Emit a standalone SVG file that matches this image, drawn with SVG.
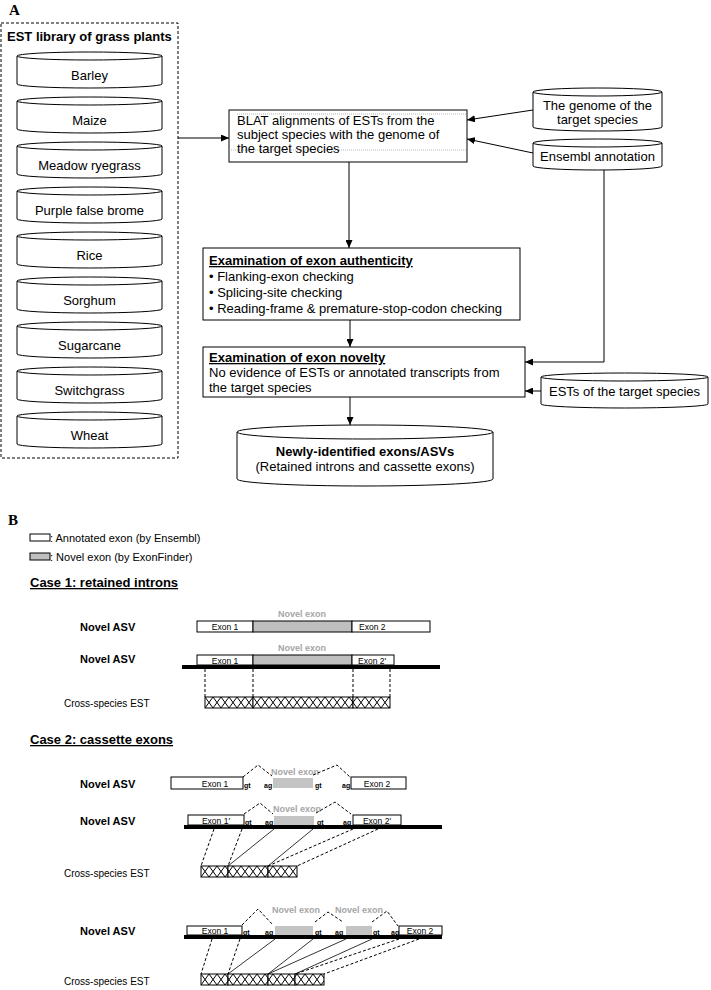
<svg xmlns="http://www.w3.org/2000/svg" width="711" height="990" viewBox="0 0 711 990">
<defs>
<marker id="ah" markerWidth="8" markerHeight="7" refX="8" refY="3.5" orient="auto" markerUnits="userSpaceOnUse"><path d="M0,0 L8,3.5 L0,7 Z" fill="#000"/></marker>
<pattern id="hatch" width="8" height="11" patternUnits="userSpaceOnUse"><rect width="8" height="11" fill="#fff"/><path d="M0,0 L8,11 M8,0 L0,11" stroke="#000" stroke-width="1"/></pattern>
</defs>
<style>
text{font-family:"Liberation Sans",Arial,Helvetica,sans-serif;fill:#000}
.t13{font-size:13px}
.bold{font-weight:bold}
.c{text-anchor:middle}
.shape{fill:#fff;stroke:#000;stroke-width:1}
.cl{fill:none;stroke:#000;stroke-width:1}
.arrow{fill:none;stroke:#000;stroke-width:1;marker-end:url(#ah)}
.dash{fill:none;stroke:#000;stroke-width:1;stroke-dasharray:3,2}
.dot{fill:none;stroke:#999;stroke-width:0.7;stroke-dasharray:1,1}
.ex{fill:#fff;stroke:#000;stroke-width:1}
.nov1{fill:#bfbfbf;stroke:#000;stroke-width:1}
.nov2{fill:#c4c4c4}
.gen{fill:#000}
.el{font-size:8.5px}
.nl{font-size:9px;font-weight:bold;fill:#a6a6a6}
.ss{font-size:7px;font-weight:bold}
.asv{font-size:11px;font-weight:bold}
.cse{font-size:10px}
.leg{font-size:11px}
.hd{font-size:13px;font-weight:bold;text-decoration:underline}
.u{text-decoration:underline}
.lbl{font-family:"Liberation Serif","Times New Roman",serif;font-weight:bold;font-size:15px}
.hatch{fill:url(#hatch);stroke:#000;stroke-width:1}
.sol{fill:none;stroke:#000;stroke-width:0.8}
.dl{fill:none;stroke:#000;stroke-width:1;stroke-dasharray:3,2}
</style>

<text class="lbl" x="9" y="15">A</text>

<g id="est-library">
<rect class="dash" x="1" y="23" width="177" height="435"/>
<text class="t13 bold" x="7" y="41">EST library of grass plants</text>
</g>

<g id="cyl-barley"><path class="shape" d="M17,56 A72.5,4 0 0 1 162,56 V84 A72.5,4 0 0 1 17,84 Z"/><path class="cl" d="M17,56 A72.5,4 0 0 0 162,56"/><text class="t13 c" x="89.5" y="80">Barley</text></g>
<g id="cyl-maize"><path class="shape" d="M17,101 A72.5,4 0 0 1 162,101 V129 A72.5,4 0 0 1 17,129 Z"/><path class="cl" d="M17,101 A72.5,4 0 0 0 162,101"/><text class="t13 c" x="89.5" y="125">Maize</text></g>
<g id="cyl-meadow"><path class="shape" d="M17,146 A72.5,4 0 0 1 162,146 V174 A72.5,4 0 0 1 17,174 Z"/><path class="cl" d="M17,146 A72.5,4 0 0 0 162,146"/><text class="t13 c" x="89.5" y="170">Meadow ryegrass</text></g>
<g id="cyl-purple"><path class="shape" d="M17,191 A72.5,4 0 0 1 162,191 V219 A72.5,4 0 0 1 17,219 Z"/><path class="cl" d="M17,191 A72.5,4 0 0 0 162,191"/><text class="t13 c" x="89.5" y="215">Purple false brome</text></g>
<g id="cyl-rice"><path class="shape" d="M17,236 A72.5,4 0 0 1 162,236 V264 A72.5,4 0 0 1 17,264 Z"/><path class="cl" d="M17,236 A72.5,4 0 0 0 162,236"/><text class="t13 c" x="89.5" y="260">Rice</text></g>
<g id="cyl-sorghum"><path class="shape" d="M17,281 A72.5,4 0 0 1 162,281 V309 A72.5,4 0 0 1 17,309 Z"/><path class="cl" d="M17,281 A72.5,4 0 0 0 162,281"/><text class="t13 c" x="89.5" y="305">Sorghum</text></g>
<g id="cyl-sugarcane"><path class="shape" d="M17,326 A72.5,4 0 0 1 162,326 V354 A72.5,4 0 0 1 17,354 Z"/><path class="cl" d="M17,326 A72.5,4 0 0 0 162,326"/><text class="t13 c" x="89.5" y="350">Sugarcane</text></g>
<g id="cyl-switchgrass"><path class="shape" d="M17,371 A72.5,4 0 0 1 162,371 V399 A72.5,4 0 0 1 17,399 Z"/><path class="cl" d="M17,371 A72.5,4 0 0 0 162,371"/><text class="t13 c" x="89.5" y="395">Switchgrass</text></g>
<g id="cyl-wheat"><path class="shape" d="M17,416 A72.5,4 0 0 1 162,416 V444 A72.5,4 0 0 1 17,444 Z"/><path class="cl" d="M17,416 A72.5,4 0 0 0 162,416"/><text class="t13 c" x="89.5" y="440">Wheat</text></g>

<g id="blat">
<rect class="shape" x="229" y="110" width="238" height="52"/>
<line class="dot" x1="237" y1="114" x2="467" y2="114"/>
<line class="dot" x1="229" y1="150" x2="467" y2="150"/>
<text class="t13" x="237" y="125">BLAT alignments of ESTs from the</text>
<text class="t13" x="237" y="139">subject species with the genome of</text>
<text class="t13" x="237" y="153">the target species</text>
</g>

<g id="genome">
<path class="shape" d="M533,92 A64.5,4 0 0 1 662,92 V127 A64.5,4 0 0 1 533,127 Z"/><path class="cl" d="M533,92 A64.5,4 0 0 0 662,92"/>
<text class="t13 c" x="597.5" y="110">The genome of the</text>
<text class="t13 c" x="597.5" y="124">target species</text>
</g>

<g id="ensembl">
<path class="shape" d="M533,143 A64.5,4 0 0 1 662,143 V166 A64.5,4 0 0 1 533,166 Z"/><path class="cl" d="M533,143 A64.5,4 0 0 0 662,143"/>
<text class="t13 c" x="597.5" y="161">Ensembl annotation</text>
</g>

<g id="authenticity">
<rect class="shape" x="203" y="248" width="317" height="72"/>
<text class="t13 bold u" x="209" y="265">Examination of exon authenticity</text>
<text class="t13" x="209" y="281">• Flanking-exon checking</text>
<text class="t13" x="209" y="297">• Splicing-site checking</text>
<text class="t13" x="209" y="313">• Reading-frame &amp; premature-stop-codon checking</text>
</g>

<g id="novelty">
<rect class="shape" x="203" y="347" width="322" height="50"/>
<text class="t13 bold u" x="209" y="362">Examination of exon novelty</text>
<text class="t13" x="209" y="377">No evidence of ESTs or annotated transcripts from</text>
<text class="t13" x="209" y="392">the target species</text>
</g>

<g id="est-target">
<path class="shape" d="M541,377 A83.5,4 0 0 1 708,377 V404 A83.5,4 0 0 1 541,404 Z"/><path class="cl" d="M541,377 A83.5,4 0 0 0 708,377"/>
<text class="t13 c" x="624.5" y="396">ESTs of the target species</text>
</g>

<g id="newly">
<path class="shape" d="M237,432 A128,7 0 0 1 493,432 V479 A128,7 0 0 1 237,479 Z"/><path class="cl" d="M237,432 A128,7 0 0 0 493,432"/>
<text class="t13 bold c" x="365" y="456">Newly-identified exons/ASVs</text>
<text class="t13 c" x="365" y="471">(Retained introns and cassette exons)</text>
</g>

<g id="connectors">
<line class="arrow" x1="178" y1="138" x2="229" y2="138"/>
<line class="arrow" x1="533" y1="110" x2="467" y2="120"/>
<line class="arrow" x1="533" y1="153" x2="467" y2="139"/>
<line class="arrow" x1="349" y1="162" x2="349" y2="248"/>
<line class="arrow" x1="350" y1="320" x2="350" y2="347"/>
<line class="arrow" x1="350" y1="397" x2="350" y2="425"/>
<polyline class="arrow" points="604,170 604,362 525,362"/>
<line class="arrow" x1="541" y1="391" x2="525" y2="391"/>
</g>

<text class="lbl" x="8" y="525">B</text>

<g id="legend">
<rect class="ex" x="30" y="534" width="20" height="7"/>
<text class="leg" x="50" y="542">: Annotated exon (by Ensembl)</text>
<rect class="nov1" x="30" y="553" width="20" height="7"/>
<text class="leg" x="50" y="561">: Novel exon (by ExonFinder)</text>
</g>

<g id="case1">
<text class="hd" x="30" y="587">Case 1: retained introns</text>
<text class="asv" x="80" y="631">Novel ASV</text>
<rect class="ex" x="197" y="621" width="56" height="11"/>
<rect class="nov1" x="253" y="621" width="99" height="11"/>
<rect class="ex" x="352" y="621" width="78" height="11"/>
<text class="el c" x="225" y="630">Exon 1</text>
<text class="el" x="359" y="630">Exon 2</text>
<text class="nl c" x="302" y="617">Novel exon</text>

<text class="asv" x="80" y="663">Novel ASV</text>
<rect class="gen" x="182" y="665" width="258" height="4"/>
<rect class="ex" x="197" y="655" width="56" height="10"/>
<rect class="nov1" x="253" y="655" width="99" height="10"/>
<rect class="ex" x="352" y="655" width="42" height="10"/>
<text class="el c" x="225" y="664">Exon 1</text>
<text class="el" x="358" y="664">Exon 2'</text>
<text class="nl c" x="302" y="651">Novel exon</text>

<text class="cse" x="64" y="707">Cross-species EST</text>
<g transform="translate(205,697)">
<rect class="hatch" x="0" y="0" width="48" height="11"/>
<rect class="hatch" x="48" y="0" width="100" height="11"/>
<rect class="hatch" x="148" y="0" width="37" height="11"/>
</g>
</g>

<g id="case1-connectors">
<line class="dl" x1="205" y1="669" x2="205" y2="697"/>
<line class="dl" x1="253" y1="669" x2="253" y2="697"/>
<line class="dl" x1="353" y1="669" x2="353" y2="697"/>
<line class="dl" x1="390" y1="669" x2="390" y2="697"/>
</g>

<g id="case2">
<text class="hd" x="30" y="744">Case 2: cassette exons</text>

<text class="asv" x="80" y="788">Novel ASV</text>
<rect class="ex" x="171" y="777" width="72" height="12"/>
<rect class="nov2" x="273" y="778" width="40" height="10"/>
<rect class="ex" x="351" y="777" width="55" height="12"/>
<text class="el c" x="215" y="787">Exon 1</text>
<text class="el c" x="377" y="787">Exon 2</text>
<text class="ss" x="244" y="788">gt</text>
<text class="ss" x="264" y="788">ag</text>
<text class="ss" x="315" y="788">gt</text>
<text class="ss" x="342" y="788">ag</text>
<text class="nl c" x="295" y="775">Novel exon</text>
<polyline class="dl" points="243,777 258,765 272,776"/>
<polyline class="dl" points="313,775 337,765 350,777"/>

<text class="asv" x="80" y="825">Novel ASV</text>
<rect class="gen" x="184" y="825" width="258" height="4"/>
<rect class="ex" x="188" y="815" width="56" height="10"/>
<rect class="nov2" x="274" y="816" width="40" height="9"/>
<rect class="ex" x="353" y="815" width="48" height="10"/>
<text class="el c" x="216" y="824">Exon 1'</text>
<text class="el c" x="377" y="824">Exon 2'</text>
<text class="ss" x="245" y="825">gt</text>
<text class="ss" x="265" y="825">ag</text>
<text class="ss" x="317" y="825">gt</text>
<text class="ss" x="343" y="825">ag</text>
<text class="nl c" x="297" y="812">Novel exon</text>
<polyline class="dl" points="244,814 260,803 273,814"/>
<polyline class="dl" points="316,813 335,802 351,814"/>

<text class="cse" x="64" y="877">Cross-species EST</text>
<g transform="translate(201,866)">
<rect class="hatch" x="0" y="0" width="27" height="11"/>
<rect class="hatch" x="27" y="0" width="40" height="11"/>
<rect class="hatch" x="67" y="0" width="29" height="11"/>
</g>

<text class="asv" x="80" y="935">Novel ASV</text>
<rect class="gen" x="184" y="935" width="258" height="4"/>
<rect class="ex" x="187" y="926" width="55" height="9"/>
<rect class="nov2" x="275" y="926" width="38" height="9"/>
<rect class="nov2" x="346" y="926" width="26" height="9"/>
<rect class="ex" x="399" y="926" width="43" height="9"/>
<text class="el c" x="215" y="934">Exon 1</text>
<text class="el c" x="420" y="934">Exon 2</text>
<text class="ss" x="243" y="935">gt</text>
<text class="ss" x="265" y="935">ag</text>
<text class="ss" x="315" y="935">gt</text>
<text class="ss" x="335" y="935">ag</text>
<text class="ss" x="373" y="935">gt</text>
<text class="ss" x="391" y="935">ag</text>
<text class="nl c" x="296" y="913">Novel exon</text>
<text class="nl c" x="359" y="913">Novel exon</text>
<polyline class="dl" points="242,925 258,909 273,925"/>
<polyline class="dl" points="315,922 328,912 343,922"/>
<polyline class="dl" points="372,922 387,911 398,926"/>

<text class="cse" x="64" y="985">Cross-species EST</text>
<g transform="translate(201,974)">
<rect class="hatch" x="0" y="0" width="27" height="11"/>
<rect class="hatch" x="27" y="0" width="40" height="11"/>
<rect class="hatch" x="67" y="0" width="27" height="11"/>
<rect class="hatch" x="94" y="0" width="29" height="11"/>
</g>
</g>

<g id="case2-connectors">
<line class="dl" x1="214" y1="829" x2="201" y2="866"/>
<line class="dl" x1="242" y1="829" x2="228" y2="866"/>
<line class="sol" x1="274" y1="829" x2="228" y2="866"/>
<line class="sol" x1="313" y1="829" x2="268" y2="866"/>
<line class="dl" x1="353" y1="829" x2="268" y2="866"/>
<line class="dl" x1="378" y1="829" x2="297" y2="866"/>

<line class="dl" x1="212" y1="939" x2="201" y2="974"/>
<line class="dl" x1="240" y1="939" x2="228" y2="974"/>
<line class="sol" x1="275" y1="939" x2="228" y2="974"/>
<line class="sol" x1="313" y1="939" x2="268" y2="974"/>
<line class="sol" x1="346" y1="939" x2="268" y2="974"/>
<line class="sol" x1="372" y1="939" x2="295" y2="974"/>
<line class="dl" x1="399" y1="939" x2="295" y2="974"/>
<line class="dl" x1="419" y1="939" x2="324" y2="974"/>
</g>
</svg>
